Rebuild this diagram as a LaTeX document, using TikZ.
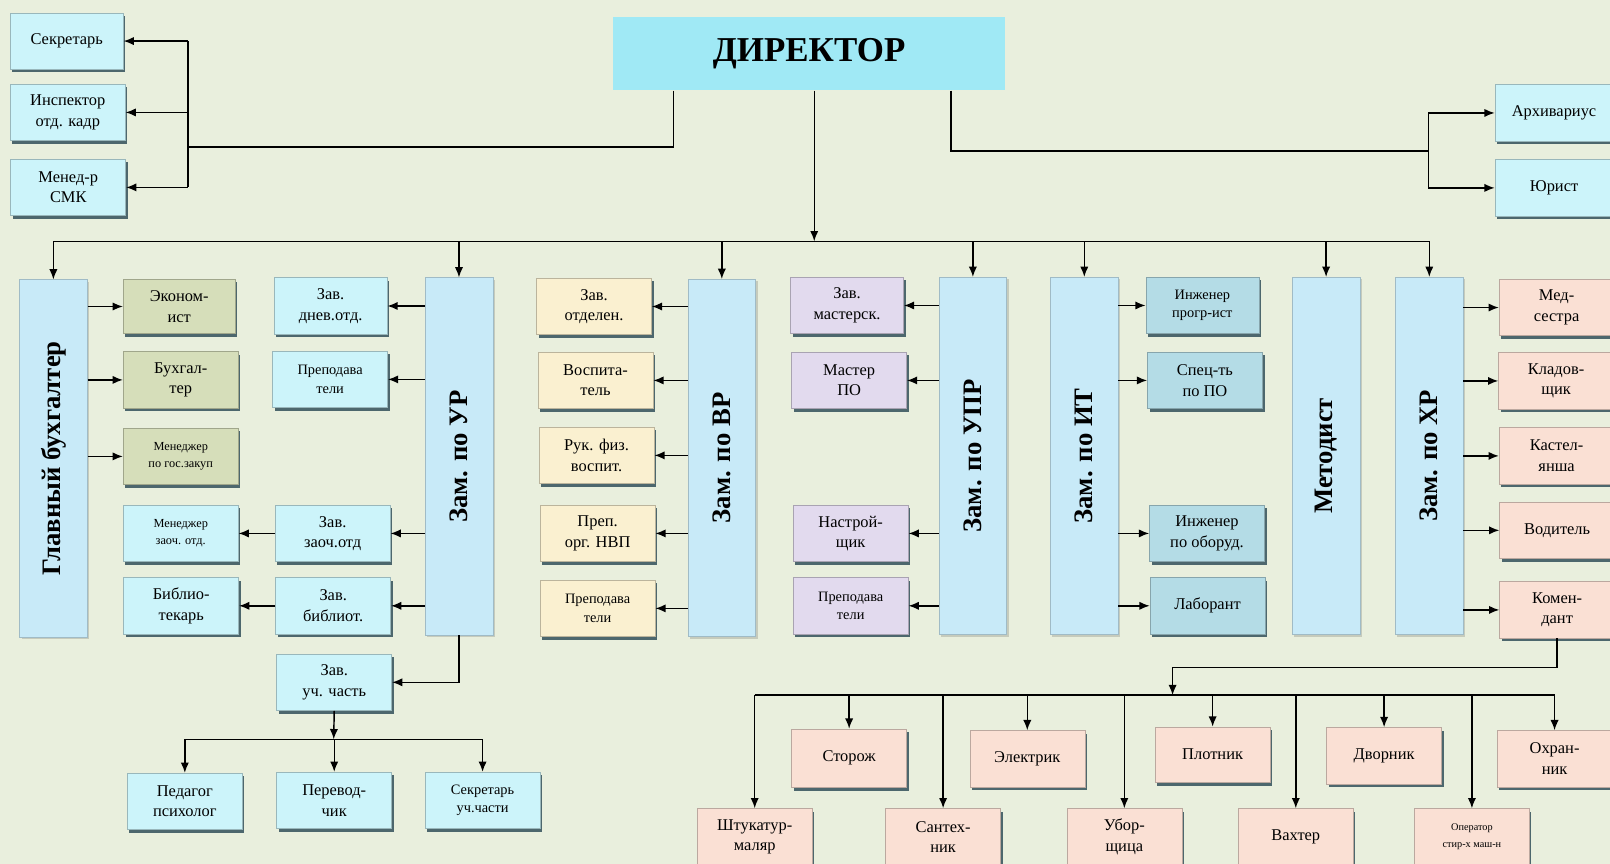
\documentclass[tikz,border=0pt]{standalone}
\usepackage{fontspec}
\setmainfont{Liberation Serif}
\usepackage{graphicx}
\usetikzlibrary{arrows.meta,shadows}

\definecolor{bgc}{RGB}{233,239,221}
\definecolor{dirc}{RGB}{160,233,245}
\definecolor{cyanc}{RGB}{204,244,250}
\definecolor{tallc}{RGB}{200,234,248}
\definecolor{olivc}{RGB}{214,222,186}
\definecolor{creamc}{RGB}{250,240,208}
\definecolor{lavc}{RGB}{226,218,238}
\definecolor{tealc}{RGB}{180,220,230}
\definecolor{pinkc}{RGB}{250,224,212}
\definecolor{shadowc}{RGB}{50,80,90}

\tikzset{
  >={Latex[length=10pt,width=8pt]},
  box/.style={draw=#1!75!black, fill=#1, line width=0.6pt, inner sep=0pt, align=center,
    minimum width=112pt, minimum height=55pt, font=\fontsize{16}{20}\selectfont,
    drop shadow={shadow xshift=2pt, shadow yshift=-3pt, fill=shadowc, opacity=0.85}},
  tall/.style={draw=tallc!80!black, fill=tallc, line width=0.6pt, inner sep=0pt,
    minimum width=66pt, minimum height=348pt, font=\bfseries\fontsize{26}{30}\selectfont,
    drop shadow={shadow xshift=2pt, shadow yshift=-2pt, fill=black, opacity=0.15}},
  smalltext/.style={font=\fontsize{14}{18}\selectfont},
  tinytext/.style={font=\fontsize{12}{17}\selectfont},
  link/.style={line width=1.4pt}
}

\begin{document}
\begin{tikzpicture}[x=1pt,y=-1pt]
\useasboundingbox (0,0) rectangle (1568,841);
\fill[bgc] (0,0) rectangle (1568,841);

% top level
\node[fill=dirc, inner sep=0pt, minimum width=382pt, minimum height=71pt, font=\bfseries\fontsize{34}{38}\selectfont] (dir) at (788,52.5) {ДИРЕКТОР};

\node[box=cyanc, minimum width=110pt] (sec) at (65,40) {Секретарь};
\node[box=cyanc] (insp) at (66,109.5) {Инспектор\\отд. кадр};
\node[box=cyanc] (smk) at (66.5,182.5) {Менед-р\\СМК};
\node[box=cyanc, minimum width=115pt] (arh) at (1513.5,110) {Архивариус};
\node[box=cyanc, minimum width=115pt] (jur) at (1513.5,183) {Юрист};

% deputies
\node[tall] (glb) at (52,446.5) {\rotatebox{90}{Главный бухгалтер}};
\node[tall] (zur) at (447,444.5) {\rotatebox{90}{Зам. по УР}};
\node[tall] (zvr) at (703,446) {\rotatebox{90}{Зам. по ВР}};
\node[tall] (zupr) at (947.5,444) {\rotatebox{90}{Зам. по УПР}};
\node[tall] (zit) at (1056,444) {\rotatebox{90}{Зам. по ИТ}};
\node[tall] (met) at (1291.5,444) {\rotatebox{90}{Методист}};
\node[tall] (zxr) at (1392,444) {\rotatebox{90}{Зам. по ХР}};

% accounting
\node[box=olivc, minimum width=109pt, minimum height=53pt] (eko) at (174.5,298.5) {Эконом-\\ист};
\node[box=olivc] (buh) at (176,370) {Бухгал-\\тер};
\node[box=olivc, tinytext] (mgz) at (176,444.5) {Менеджер\\по гос.закуп};

% teaching
\node[box=cyanc, minimum width=110pt] (dzo) at (322,298) {Зав.\\днев.отд.};
\node[box=cyanc, smalltext] (pru) at (321.5,369.5) {Преподава\\тели};
\node[box=cyanc] (zzo) at (324,519.5) {Зав.\\заоч.отд};
\node[box=cyanc, tinytext] (mzo) at (176,519.5) {Менеджер\\заоч. отд.};
\node[box=cyanc] (zbi) at (324.5,590) {Зав.\\библиот.};
\node[box=cyanc] (bib) at (176.5,590) {Библио-\\текарь};
\node[box=cyanc] (zuch) at (325.5,664.5) {Зав.\\уч. часть};
\node[box=cyanc] (ped) at (180,780.5) {Педагог\\психолог};
\node[box=cyanc] (per) at (325.5,779.5) {Перевод-\\чик};
\node[box=cyanc, smalltext] (suc) at (470,779.5) {Секретарь\\уч.части};

% upbringing
\node[box=creamc] (zot) at (578.5,298.5) {Зав.\\отделен.};
\node[box=creamc] (vos) at (580,370.5) {Воспита-\\тель};
\node[box=creamc] (ruk) at (581,443.5) {Рук. физ.\\воспит.};
\node[box=creamc] (nvp) at (582,519.5) {Преп.\\орг. НВП};
\node[box=creamc, smalltext] (prv) at (582,592.5) {Преподава\\тели};

% practical training
\node[box=lavc, minimum width=110pt] (zma) at (825,297.5) {Зав.\\мастерск.};
\node[box=lavc] (mpo) at (827,370.5) {Мастер\\ПО};
\node[box=lavc] (nas) at (828.5,519.5) {Настрой-\\щик};
\node[box=lavc, smalltext] (prp) at (828.5,590) {Преподава\\тели};

% IT
\node[box=tealc, smalltext, minimum width=110pt] (ipr) at (1171,297.5) {Инженер\\прогр-ист};
\node[box=tealc] (spo) at (1173.5,370.5) {Спец-ть\\по ПО};
\node[box=tealc] (iob) at (1175.5,519.5) {Инженер\\по оборуд.};
\node[box=tealc] (lab) at (1176,590) {Лаборант};

% household
\node[box=pinkc] (med) at (1516,299.5) {Мед-\\сестра};
\node[box=pinkc] (kla) at (1515.5,371) {Кладов-\\щик};
\node[box=pinkc] (kas) at (1516,444) {Кастел-\\янша};
\node[box=pinkc] (vod) at (1516.5,516.5) {Водитель};
\node[box=pinkc] (kom) at (1516.5,594) {Комен-\\дант};

\node[box=pinkc, minimum height=57pt] (sto) at (827,738.5) {Сторож};
\node[box=pinkc] (ele) at (1000.5,739) {Электрик};
\node[box=pinkc, minimum height=54pt] (plo) at (1181,735) {Плотник};
\node[box=pinkc] (dvo) at (1348,736) {Дворник};
\node[box=pinkc] (oxr) at (1514,739) {Охран-\\ник};
\node[box=pinkc] (sht) at (735,815) {Штукатур-\\маляр};
\node[box=pinkc] (san) at (918.5,815) {Сантех-\\ник};
\node[box=pinkc] (ubo) at (1095,815) {Убор-\\щица};
\node[box=pinkc] (vax) at (1262,815) {Вахтер};
\node[box=pinkc, font=\fontsize{10}{16}\selectfont] (ope) at (1433.5,815) {Оператор\\стир-х маш-н};

% director links
\coordinate (lbr) at (183,143);
\coordinate (rbr) at (1391,147);
\coordinate (bus) at (793,235);
\draw[link] ([xshift=-132pt]dir.south) |- (lbr);
\draw[link] (lbr |- sec.east) -- (lbr |- smk.east);
\foreach \n in {sec,insp,smk} \draw[link,->] (lbr |- \n.east) -- (\n.east);
\draw[link] ([xshift=138pt]dir.south) |- (rbr);
\draw[link] (rbr |- arh.west) -- (rbr |- jur.west);
\foreach \n in {arh,jur} \draw[link,->] (rbr |- \n.west) -- (\n.west);

\draw[link,->] (dir.south -| bus) -- (bus);
\draw[link] (glb.north |- bus) -- (zxr.north |- bus);
\foreach \n in {glb,zur,zvr,zupr,zit,met,zxr} \draw[link,->] (\n.north |- bus) -- (\n.north);

% deputy links
\foreach \n in {eko,buh,mgz} \draw[link,->] (glb.east |- \n.west) -- (\n.west);
\foreach \n in {dzo,pru,zzo,zbi} \draw[link,->] (zur.west |- \n.east) -- (\n.east);
\draw[link,->] (zzo.west) -- (mzo.east);
\draw[link,->] (zbi.west) -- (bib.east);
\foreach \n in {zot,vos,ruk,nvp,prv} \draw[link,->] (zvr.west |- \n.east) -- (\n.east);
\foreach \n in {zma,mpo,nas,prp} \draw[link,->] (zupr.west |- \n.east) -- (\n.east);
\foreach \n in {ipr,spo,iob,lab} \draw[link,->] (zit.east |- \n.west) -- (\n.west);
\foreach \n in {med,kla,kas,vod,kom} \draw[link,->] (zxr.east |- \n.west) -- (\n.west);

% study part
\coordinate (ubus) at (325,720);
\draw[link,->] (zur.south) |- (zuch.east);
\draw[link,->] (zuch.south) -- (ubus);
\draw[link] (ped.north |- ubus) -- (suc.north |- ubus);
\foreach \n in {ped,per,suc} \draw[link,->] (\n.north |- ubus) -- (\n.north);

% staff under commandant
\coordinate (hk) at (1142,650);
\coordinate (hbus) at (1142,677);
\draw[link,->] (kom.south) |- (hk) -- (hbus);
\draw[link] (sht.north |- hbus) -- (oxr.north |- hbus);
\foreach \n in {sto,ele,plo,dvo,oxr,sht,san,ubo,vax,ope} \draw[link,->] (\n.north |- hbus) -- (\n.north);

\end{tikzpicture}
\end{document}
